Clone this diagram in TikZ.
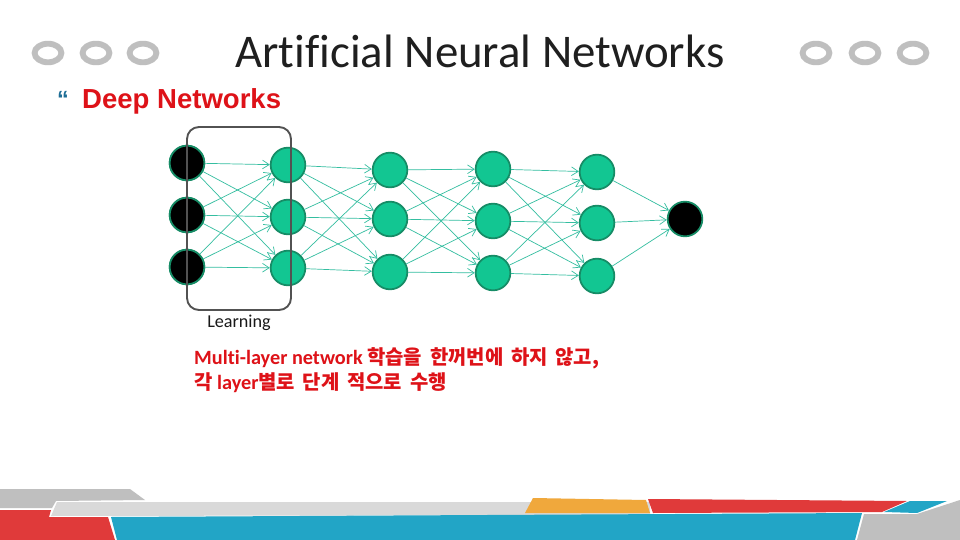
\documentclass[tikz,border=0pt]{standalone}
\usepackage{fontspec}
\setmainfont{Carlito}[Ligatures={NoCommon}]
\newfontfamily\arialfont{Liberation Sans}
\newfontfamily\krfont{Noto Sans CJK KR}[WordSpace=1.7]
\usetikzlibrary{arrows.meta}
\definecolor{mint}{RGB}{18,198,146}
\definecolor{mintdark}{RGB}{22,140,102}
\definecolor{linkteal}{RGB}{52,190,160}
\definecolor{ringgray}{RGB}{191,191,191}
\definecolor{stripegray}{RGB}{191,191,191}
\definecolor{stripelight}{RGB}{217,217,217}
\definecolor{stripered}{RGB}{224,58,58}
\definecolor{stripeblue}{RGB}{34,165,198}
\definecolor{stripeorange}{RGB}{240,168,60}
\definecolor{slidered}{RGB}{222,18,24}
\definecolor{quoteblue}{RGB}{30,110,150}
\newcommand{\kor}[1]{{\krfont\bfseries\fontsize{17}{20}\selectfont #1}}

\begin{document}
\begin{tikzpicture}[x=0.03cm, y=-0.03cm,
    neuron/.style={circle, draw=mintdark, line width=1.5pt, fill=mint, minimum size=1.04cm, inner sep=0pt},
    inneuron/.style={neuron, fill=black},
    link/.style={draw=linkteal, line width=0.6pt, -{Straight Barb[length=2mm, width=2.6mm]}},
    ring/.style={draw=ringgray, line width=5pt}]
	\useasboundingbox[fill=white] (0,0) rectangle (960,540);

	% title rings
	\foreach \x in {48, 96, 143, 816, 865, 913}
		\draw[ring] (\x,53) ellipse (13.4 and 9.3);

	% title
	\node[anchor=base, text=black!88, font=\fontsize{40}{44}\selectfont] (title) at (480,68) {Artificial Neural Networks};
	\node[anchor=north, text=quoteblue, font=\arialfont\bfseries\fontsize{20}{20}\selectfont] (bullet) at (63,87) {“};
	\node[anchor=base west, inner sep=0pt, text=slidered, font=\arialfont\bfseries\fontsize{23.5}{26}\selectfont] (sub) at (82,109) {Deep Networks};

	% neurons
	\foreach \l/\x/\ya/\yb/\yc in {1/187/163/215/267, 2/288/165/217/268, 3/390/170/219/272, 4/493/169/221/273, 5/597/172/223/276}
		\foreach \i/\y in {1/\ya, 2/\yb, 3/\yc}
			\node[neuron] (n\l-\i) at (\x,\y) {};
	\foreach \i in {1,2,3}
		\node[inneuron] at (n1-\i) {};
	\node[inneuron] (out) at (685,219) {};

	% links
	\foreach \l [count=\m from 2] in {1,...,4}
		\foreach \i in {1,2,3}
			\foreach \j in {1,2,3}
				\draw[link] (n\l-\i) -- (n\m-\j);
	\foreach \i in {1,2,3}
		\draw[link] (n5-\i) -- (out);

	% learning box
	\draw[black!68, line width=1.6pt, rounded corners=0.36cm] (187,127) rectangle (291,310);
	\node[anchor=base, text=black!90, font=\fontsize{15.5}{18}\selectfont] (learn) at (239,327) {Learning};

	% note
	\node[anchor=base west, inner sep=0pt, text=slidered, font=\bfseries\fontsize{17.3}{20}\selectfont] (note1) at (194,364)
		{Multi-layer network \kor{학습을 한꺼번에 하지 않고,}};
	\node[anchor=base west, inner sep=0pt, text=slidered, font=\bfseries\fontsize{17.3}{20}\selectfont] (note2) at (194,389)
		{\kor{각} layer\kor{별로 단계 적으로 수행}};

	% bottom stripes
	\fill[stripegray] (0,489) -- (130,489) -- (145,500) -- (56,501) -- (52,508) -- (0,508) -- cycle;
	\fill[stripelight] (57,502) -- (650,502) -- (650,515) -- (51,516) -- cycle;
	\fill[stripered] (0,510) -- (51,510) -- (49,517) -- (108,517) -- (115,540) -- (0,540) -- cycle;
	\fill[stripeblue] (111,517) -- (862,513) -- (855,540) -- (117,540) -- cycle;
	\fill[stripeorange] (533,498) -- (646,500) -- (650,513) -- (525,513) -- cycle;
	\fill[stripered] (648,499) -- (907,501) -- (882,512) -- (653,513) -- cycle;
	\fill[stripeblue] (884,512) -- (910,501) -- (947,501) -- (917,513) -- cycle;
	\fill[stripegray] (857,540) -- (864,514) -- (917,514) -- (960,500) -- (960,540) -- cycle;
\end{tikzpicture}
\end{document}
